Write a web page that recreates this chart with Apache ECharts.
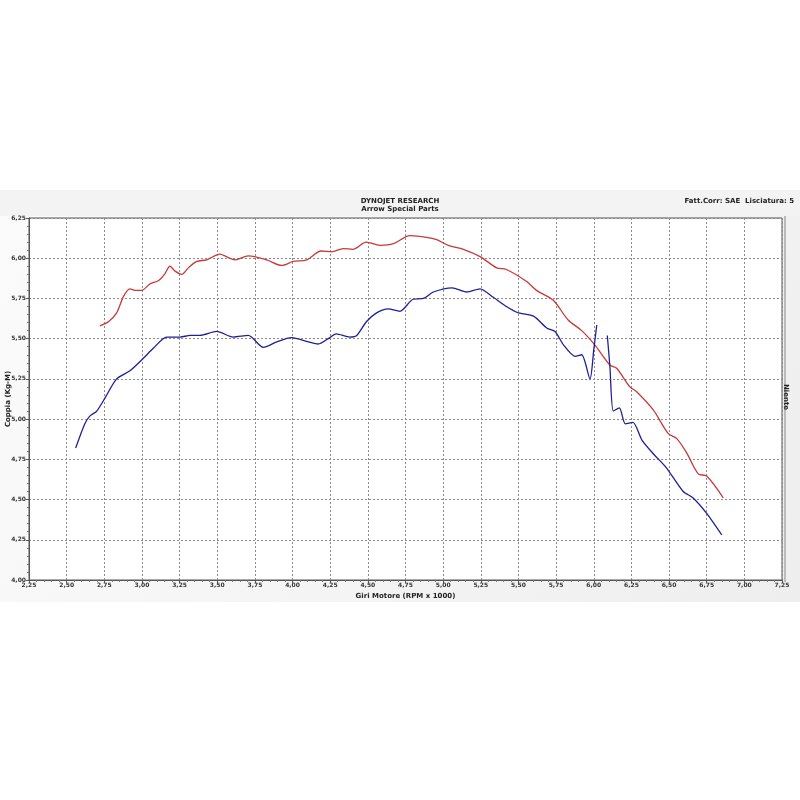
<!DOCTYPE html>
<html>
<head>
<meta charset="utf-8">
<script src="https://cdn.jsdelivr.net/npm/echarts@6/dist/echarts.min.js"></script>
<style>html,body{margin:0;padding:0;background:#fff;}#c{width:800px;height:800px;}</style>
</head>
<body>
<div id="c"></div>
<script>
const xTicks = [2.25,2.5,2.75,3,3.25,3.5,3.75,4,4.25,4.5,4.75,5,5.25,5.5,5.75,6,6.25,6.5,6.75,7,7.25];
const yTicks = [4,4.25,4.5,4.75,5,5.25,5.5,5.75,6,6.25];

const rpmRed = [2.72,2.777,2.832,2.876,2.92,2.96,2.998,3.053,3.109,3.15,3.186,3.22,3.264,3.308,3.364,3.43,3.518,3.56,3.618,3.706,3.828,3.928,4.005,4.094,4.19,4.26,4.337,4.40,4.49,4.58,4.67,4.78,4.89,4.957,5.034,5.134,5.245,5.356,5.42,5.555,5.62,5.73,5.83,5.92,6.008,6.107,6.152,6.24,6.285,6.395,6.495,6.55,6.617,6.694,6.75,6.86];
const torqueRed = [5.58,5.605,5.66,5.76,5.81,5.80,5.80,5.84,5.86,5.90,5.95,5.92,5.90,5.94,5.98,5.99,6.025,6.01,5.99,6.015,5.99,5.955,5.98,5.99,6.045,6.04,6.06,6.055,6.10,6.08,6.09,6.14,6.13,6.115,6.08,6.055,6.01,5.94,5.93,5.855,5.80,5.74,5.616,5.55,5.46,5.336,5.316,5.20,5.17,5.057,4.91,4.88,4.79,4.66,4.646,4.51];

const rpmBlue = [2.56,2.62,2.655,2.70,2.76,2.832,2.92,3.009,3.075,3.164,3.253,3.32,3.385,3.496,3.606,3.706,3.806,3.895,3.994,4.105,4.17,4.237,4.29,4.38,4.426,4.49,4.558,4.636,4.713,4.80,4.87,4.935,5.06,5.156,5.245,5.333,5.42,5.50,5.60,5.69,5.743,5.80,5.876,5.92,5.975,6.00,6.02,6.05,6.09,6.107,6.13,6.17,6.21,6.26,6.32,6.40,6.48,6.594,6.66,6.75,6.85];
const torqueBlue = [4.82,4.97,5.02,5.05,5.14,5.25,5.30,5.378,5.44,5.51,5.51,5.52,5.52,5.545,5.51,5.52,5.446,5.48,5.506,5.48,5.467,5.50,5.53,5.51,5.52,5.605,5.66,5.685,5.67,5.745,5.75,5.79,5.816,5.79,5.81,5.757,5.70,5.66,5.64,5.565,5.545,5.46,5.39,5.40,5.25,5.43,5.585,null,5.52,5.33,5.05,5.07,4.97,4.98,4.87,4.78,4.70,4.55,4.51,4.414,4.28];

const fmt = v => v.toFixed(2).replace('.', ',');
const pairs = (xs, ys) => xs.map((x, i) => [x, ys[i] === null ? '-' : ys[i]]);

const chart = echarts.init(document.getElementById('c'), null, {renderer: 'canvas'});
const FONT = '"DejaVu Sans", Verdana, sans-serif';
chart.setOption({
  animation: false,
  backgroundColor: '#ffffff',
  graphic: [
    {type: 'rect', z: -10, shape: {x: 0, y: 190, width: 800, height: 412},
     style: {fill: new echarts.graphic.LinearGradient(0, 0, 1, 1, [{offset: 0, color: '#fbfbfb'}, {offset: 1, color: '#eeeeee'}])}},
    {type: 'rect', z: -9, shape: {x: 0, y: 190, width: 800, height: 26}, style: {fill: '#f3f3f3'}},
    {type: 'text', left: 'center', top: 198, style: {text: 'DYNOJET RESEARCH', font: 'bold 7px ' + FONT, fill: '#222', align: 'center'}},
    {type: 'text', left: 'center', top: 206, style: {text: 'Arrow Special Parts', font: 'bold 7px ' + FONT, fill: '#222', align: 'center'}},
    {type: 'text', right: 6, top: 198, style: {text: 'Fatt.Corr: SAE  Lisciatura: 5', font: 'bold 7px ' + FONT, fill: '#222'}},
    {type: 'rect', z: -8, shape: {x: 784, y: 216, width: 2, height: 366}, style: {fill: '#bbbbbb'}},
    {type: 'text', x: 786, y: 397, rotation: -Math.PI / 2, style: {text: 'Niente', font: 'bold 7px ' + FONT, fill: '#222', align: 'center', verticalAlign: 'middle'}},
    {type: 'text', x: 8, y: 399, rotation: Math.PI / 2, style: {text: 'Coppia (Kg-M)', font: 'bold 7px ' + FONT, fill: '#222', align: 'center', verticalAlign: 'middle'}}
  ],
  grid: {left: 29, right: 18, top: 218, bottom: 220, outerBoundsMode: 'none', containLabel: false,
         show: true, backgroundColor: '#ffffff', borderColor: '#555555', borderWidth: 1},
  xAxis: {
    type: 'value', min: 2.25, max: 7.25, interval: 0.25,
    name: 'Giri Motore (RPM x 1000)', nameLocation: 'middle', nameGap: 13,
    nameTextStyle: {fontFamily: FONT, fontSize: 7, fontWeight: 'bold', color: '#222'},
    axisLine: {show: true, lineStyle: {color: '#555', width: 1}},
    axisTick: {show: true, length: 3, lineStyle: {color: '#555'}},
    minorTick: {show: true, splitNumber: 5, length: 2, lineStyle: {color: '#777'}},
    axisLabel: {fontFamily: FONT, fontSize: 6, fontWeight: 'bold', color: '#333', margin: 2, formatter: v => fmt(v)},
    splitLine: {show: true, lineStyle: {color: '#8a8a8a', type: [2, 2], width: 1}}
  },
  yAxis: {
    type: 'value', min: 4, max: 6.25, interval: 0.25,
    axisLine: {show: true, lineStyle: {color: '#555', width: 1}},
    axisTick: {show: true, length: 3, lineStyle: {color: '#555'}},
    minorTick: {show: true, splitNumber: 5, length: 2, lineStyle: {color: '#777'}},
    axisLabel: {fontFamily: FONT, fontSize: 6, fontWeight: 'bold', color: '#333', margin: 3, formatter: v => fmt(v)},
    splitLine: {show: true, lineStyle: {color: '#8a8a8a', type: [2, 2], width: 1}}
  },
  series: [
    {type: 'line', name: 'red', data: pairs(rpmRed, torqueRed), showSymbol: false, smooth: 0.3,
     lineStyle: {color: '#c63a3a', width: 1.3}, itemStyle: {color: '#c63a3a'}},
    {type: 'line', name: 'blue', data: pairs(rpmBlue, torqueBlue), showSymbol: false, smooth: 0.25, connectNulls: false,
     lineStyle: {color: '#1f1f96', width: 1.3}, itemStyle: {color: '#1f1f96'}}
  ]
});
</script>
</body>
</html>
